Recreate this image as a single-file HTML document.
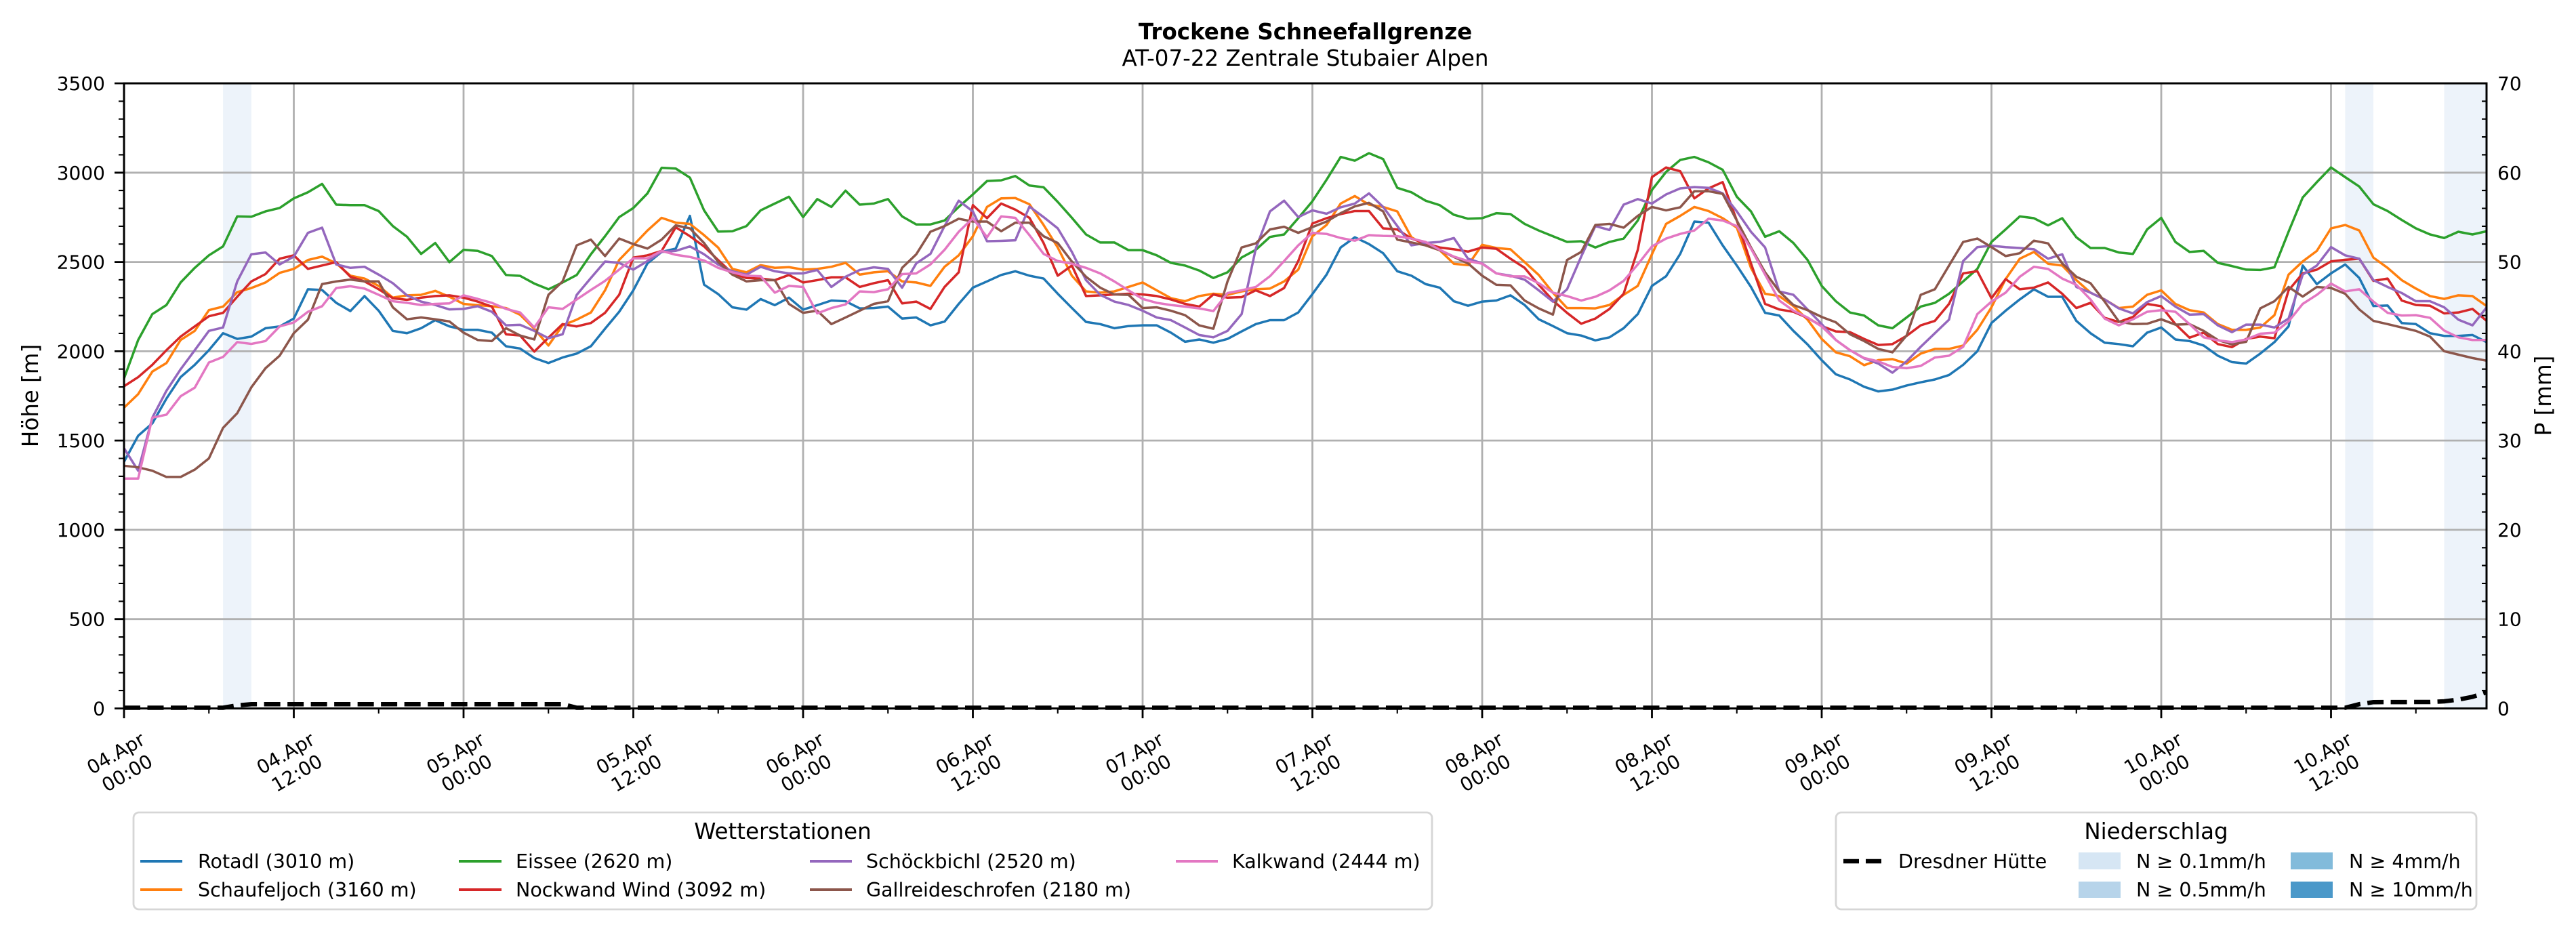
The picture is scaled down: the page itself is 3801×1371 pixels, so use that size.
<!DOCTYPE html>
<html><head><meta charset="utf-8"><style>
html,body{margin:0;padding:0;background:#fff;}
svg{display:block;}
text{font-family:"DejaVu Sans","Liberation Sans",sans-serif;fill:#000;}
</style></head><body>
<svg width="3801" height="1371" viewBox="0 0 3801 1371" xmlns="http://www.w3.org/2000/svg">
<rect width="3801" height="1371" fill="#fff"/>
<!-- title -->
<text x="1926" y="58" font-size="32.5" font-weight="bold" text-anchor="middle">Trockene Schneefallgrenze</text>
<text x="1926" y="97" font-size="32.5" text-anchor="middle">AT-07-22 Zentrale Stubaier Alpen</text>

<!-- precipitation bands -->
<g fill="#edf3fa">
<rect x="329.1" y="123" width="41.8" height="922.5"/>
<rect x="3460.4" y="123" width="41.7" height="922.5"/>
<rect x="3606.5" y="123" width="62.5" height="922.5"/>
</g>

<!-- grid -->
<g stroke="#b0b0b0" stroke-width="2.8" fill="none">
<path d="M433.5 123V1045.5M684 123V1045.5M934.5 123V1045.5M1185 123V1045.5M1435.5 123V1045.5M1686 123V1045.5M1936.5 123V1045.5M2187 123V1045.5M2437.5 123V1045.5M2688 123V1045.5M2938.5 123V1045.5M3189 123V1045.5M3439.5 123V1045.5"/>
<path d="M183 913.7H3669M183 781.9H3669M183 650.1H3669M183 518.4H3669M183 386.6H3669M183 254.8H3669"/>
</g>

<!-- data series -->
<g transform="translate(183,1045.5) scale(20.875,-0.26357)" fill="none" stroke-width="3.5" stroke-linejoin="round">
<polyline vector-effect="non-scaling-stroke" stroke="#1f77b4" points="0,1381 1,1527 2,1596 3,1735 4,1855 5,1924 6,2006 7,2101 8,2069 9,2082 10,2129 11,2139 12,2183 13,2347 14,2343 15,2271 16,2225 17,2309 18,2227 19,2114 20,2101 21,2129 22,2174 23,2139 24,2120 25,2120 26,2104 27,2028 28,2015 29,1962 30,1934 31,1965 32,1987 33,2028 34,2126 35,2221 36,2341 37,2492 38,2556 39,2575 40,2758 41,2373 42,2320 43,2246 44,2233 45,2292 46,2258 47,2300 48,2233 49,2258 50,2284 51,2280 52,2240 53,2242 54,2250 55,2183 56,2189 57,2145 58,2166 59,2265 60,2356 61,2391 62,2427 63,2448 64,2423 65,2407 66,2322 67,2242 68,2164 69,2152 70,2129 71,2141 72,2145 73,2145 74,2104 75,2053 76,2066 77,2048 78,2069 79,2111 80,2152 81,2174 82,2174 83,2217 84,2320 85,2429 86,2581 87,2638 88,2600 89,2549 90,2448 91,2423 92,2376 93,2356 94,2280 95,2255 96,2278 97,2284 98,2313 99,2259 100,2179 101,2141 102,2101 103,2088 104,2061 105,2078 106,2129 107,2208 108,2366 109,2420 110,2545 111,2726 112,2720 113,2593 114,2480 115,2360 116,2215 117,2200 118,2114 119,2038 120,1950 121,1871 122,1842 123,1801 124,1775 125,1785 126,1808 127,1826 128,1842 129,1867 130,1924 131,2000 132,2158 133,2227 134,2290 135,2347 136,2305 137,2305 138,2170 139,2101 140,2048 141,2040 142,2028 143,2104 144,2133 145,2066 146,2057 147,2032 148,1975 149,1939 150,1931 151,1987 152,2051 153,2139 154,2480 155,2376 156,2436 157,2486 158,2410 159,2253 160,2256 161,2158 162,2152 163,2101 164,2086 165,2086 166,2091 167,2051"/>
<polyline vector-effect="non-scaling-stroke" stroke="#ff7f0e" points="0,1684 1,1760 2,1886 3,1934 4,2063 5,2114 6,2230 7,2250 8,2331 9,2354 10,2385 11,2439 12,2461 13,2511 14,2530 15,2492 16,2423 17,2407 18,2366 19,2300 20,2313 21,2316 22,2338 23,2305 24,2265 25,2258 26,2252 27,2242 28,2204 29,2126 30,2032 31,2145 32,2177 33,2217 34,2341 35,2511 36,2593 37,2676 38,2747 39,2720 40,2713 41,2650 42,2580 43,2461 44,2442 45,2482 46,2467 47,2471 48,2457 49,2461 50,2473 51,2495 52,2429 53,2442 54,2448 55,2391 56,2385 57,2366 58,2473 59,2537 60,2644 61,2808 62,2856 63,2858 64,2823 65,2707 66,2581 67,2423 68,2335 69,2328 70,2335 71,2360 72,2385 73,2341 74,2297 75,2280 76,2309 77,2322 78,2316 79,2335 80,2347 81,2351 82,2391 83,2457 84,2644 85,2707 86,2827 87,2869 88,2821 89,2808 90,2783 91,2638 92,2593 93,2566 94,2490 95,2482 96,2596 97,2578 98,2571 99,2499 100,2427 101,2328 102,2242 103,2242 104,2240 105,2259 106,2316 107,2366 108,2543 109,2713 110,2758 111,2808 112,2785 113,2745 114,2692 115,2467 116,2322 117,2309 118,2253 119,2177 120,2069 121,1994 122,1972 123,1922 124,1950 125,1956 126,1931 127,1987 128,2013 129,2013 130,2032 131,2120 132,2246 133,2404 134,2518 135,2556 136,2490 137,2480 138,2398 139,2328 140,2290 141,2242 142,2250 143,2316 144,2341 145,2265 146,2230 147,2217 148,2152 149,2120 150,2120 151,2133 152,2202 153,2429 154,2503 155,2562 156,2688 157,2707 158,2676 159,2524 160,2467 161,2398 162,2351 163,2309 164,2293 165,2313 166,2309 167,2253"/>
<polyline vector-effect="non-scaling-stroke" stroke="#2ca02c" points="0,1848 1,2063 2,2208 3,2259 4,2385 5,2467 6,2537 7,2587 8,2755 9,2753 10,2783 11,2802 12,2856 13,2890 14,2937 15,2821 16,2818 17,2818 18,2785 19,2701 20,2641 21,2545 22,2606 23,2499 24,2568 25,2562 26,2533 27,2427 28,2422 29,2379 30,2347 31,2385 32,2427 33,2543 34,2644 35,2751 36,2802 37,2884 38,3027 39,3023 40,2972 41,2789 42,2670 43,2672 44,2701 45,2789 46,2827 47,2865 48,2751 49,2852 50,2808 51,2899 52,2821 53,2827 54,2852 55,2755 56,2710 57,2710 58,2732 59,2808 60,2878 61,2953 62,2957 63,2981 64,2928 65,2918 66,2836 67,2747 68,2654 69,2609 70,2609 71,2566 72,2566 73,2537 74,2495 75,2480 76,2452 77,2410 78,2442 79,2525 80,2568 81,2640 82,2654 83,2745 84,2840 85,2960 86,3088 87,3067 88,3109 89,3076 90,2915 91,2890 92,2843 93,2818 94,2764 95,2742 96,2745 97,2773 98,2768 99,2713 100,2676 101,2644 102,2612 103,2616 104,2581 105,2612 106,2631 107,2732 108,2903 109,3004 110,3071 111,3088 112,3058 113,3016 114,2865 115,2783 116,2641 117,2672 118,2606 119,2511 120,2366 121,2280 122,2217 123,2200 124,2145 125,2129 126,2189 127,2250 128,2271 129,2322 130,2391 131,2461 132,2612 133,2682 134,2755 135,2745 136,2705 137,2745 138,2638 139,2578 140,2578 141,2553 142,2545 143,2682 144,2747 145,2612 146,2556 147,2562 148,2495 149,2477 150,2457 151,2455 152,2470 153,2669 154,2861 155,2947 156,3029 157,2975 158,2922 159,2823 160,2785 161,2735 162,2688 163,2654 164,2634 165,2669 166,2654 167,2672"/>
<polyline vector-effect="non-scaling-stroke" stroke="#d62728" points="0,1804 1,1855 2,1924 3,2006 4,2082 5,2139 6,2196 7,2215 8,2305 9,2391 10,2432 11,2518 12,2537 13,2461 14,2480 15,2499 16,2417 17,2391 18,2347 19,2297 20,2288 21,2300 22,2309 23,2313 24,2300 25,2278 26,2250 27,2095 28,2088 29,1998 30,2076 31,2152 32,2139 33,2158 34,2215 35,2316 36,2524 37,2537 38,2562 39,2694 40,2644 41,2587 42,2510 43,2436 44,2410 45,2407 46,2398 47,2427 48,2385 49,2398 50,2414 51,2414 52,2360 53,2381 54,2398 55,2268 56,2278 57,2237 58,2360 59,2442 60,2818 61,2745 62,2827 63,2793 64,2747 65,2606 66,2423 67,2480 68,2309 69,2313 70,2318 71,2322 72,2318 73,2309 74,2290 75,2265 76,2250 77,2318 78,2300 79,2303 80,2341 81,2309 82,2354 83,2505 84,2715 85,2745 86,2768 87,2785 88,2785 89,2688 90,2682 91,2631 92,2604 93,2581 94,2571 95,2558 96,2581 97,2574 98,2518 99,2467 100,2372 101,2284 102,2215 103,2154 104,2183 105,2237 106,2322 107,2568 108,2975 109,3029 110,3008 111,2856 112,2912 113,2947 114,2732 115,2492 116,2265 117,2234 118,2221 119,2187 120,2141 121,2111 122,2107 123,2069 124,2035 125,2040 126,2086 127,2145 128,2170 129,2265 130,2436 131,2448 132,2297 133,2404 134,2347 135,2356 136,2385 137,2322 138,2242 139,2271 140,2187 141,2164 142,2192 143,2265 144,2252 145,2152 146,2076 147,2104 148,2040 149,2023 150,2069 151,2082 152,2073 153,2341 154,2436 155,2457 156,2503 157,2512 158,2518 159,2394 160,2407 161,2284 162,2259 163,2255 164,2212 165,2217 166,2237 167,2170"/>
<polyline vector-effect="non-scaling-stroke" stroke="#9467bd" points="0,1457 1,1331 2,1628 3,1779 4,1899 5,2006 6,2114 7,2133 8,2391 9,2543 10,2553 11,2486 12,2530 13,2663 14,2692 15,2486 16,2467 17,2473 18,2429 19,2381 20,2313 21,2278 22,2259 23,2234 24,2237 25,2252 26,2221 27,2145 28,2148 29,2114 30,2073 31,2095 32,2316 33,2410 34,2502 35,2495 36,2457 37,2505 38,2556 39,2562 40,2587 41,2543 42,2485 43,2448 44,2429 45,2473 46,2448 47,2436 48,2436 49,2455 50,2360 51,2417 52,2455 53,2470 54,2461 55,2356 56,2492 57,2545 58,2701 59,2843 60,2783 61,2616 62,2618 63,2621 64,2810 65,2751 66,2688 67,2556 68,2398 69,2316 70,2278 71,2259 72,2227 73,2189 74,2174 75,2133 76,2091 77,2078 78,2114 79,2208 80,2575 81,2783 82,2843 83,2751 84,2789 85,2770 86,2806 87,2827 88,2884 89,2808 90,2701 91,2593 92,2606 93,2612 94,2634 95,2518 96,2492 97,2436 98,2423 99,2401 100,2341 101,2278 102,2347 103,2530 104,2701 105,2679 106,2821 107,2852 108,2827 109,2878 110,2912 111,2919 112,2915 113,2884 114,2783 115,2669 116,2581 117,2335 118,2316 119,2234 120,2152 121,2063 122,2006 123,1960 124,1931 125,1880 126,1943 127,2025 128,2101 129,2177 130,2505 131,2583 132,2591 133,2583 134,2578 135,2571 136,2518 137,2543 138,2360 139,2328 140,2290 141,2240 142,2212 143,2275 144,2309 145,2250 146,2205 147,2208 148,2145 149,2107 150,2149 151,2149 152,2133 153,2183 154,2429 155,2480 156,2583 157,2537 158,2518 159,2398 160,2360 161,2326 162,2280 163,2280 164,2246 165,2177 166,2145 167,2246"/>
<polyline vector-effect="non-scaling-stroke" stroke="#8c564b" points="0,1359 1,1350 2,1331 3,1296 4,1296 5,1337 6,1400 7,1571 8,1653 9,1798 10,1905 11,1975 12,2101 13,2177 14,2376 15,2391 16,2401 17,2391 18,2391 19,2246 20,2179 21,2189 22,2179 23,2167 24,2104 25,2063 26,2057 27,2129 28,2088 29,2066 30,2316 31,2391 32,2593 33,2625 34,2533 35,2631 36,2600 37,2575 38,2625 39,2705 40,2688 41,2606 42,2500 43,2429 44,2391 45,2398 46,2398 47,2265 48,2215 49,2227 50,2152 51,2189 52,2227 53,2265 54,2280 55,2467 56,2543 57,2669 58,2701 59,2742 60,2726 61,2726 62,2672 63,2720 64,2720 65,2644 66,2606 67,2502 68,2417 69,2356 70,2318 71,2316 72,2242 73,2246 74,2227 75,2202 76,2145 77,2126 78,2391 79,2581 80,2604 81,2682 82,2697 83,2663 84,2695 85,2726 86,2773 87,2811 88,2831 89,2783 90,2625 91,2609 92,2593 93,2566 94,2528 95,2492 96,2423 97,2372 98,2369 99,2284 100,2240 101,2205 102,2511 103,2556 104,2707 105,2713 106,2692 107,2758 108,2808 109,2789 110,2806 111,2896 112,2896 113,2881 114,2732 115,2581 116,2442 117,2335 118,2259 119,2230 120,2192 121,2162 122,2095 123,2057 124,2013 125,1994 126,2088 127,2316 128,2347 129,2480 130,2612 131,2631 132,2583 133,2533 134,2549 135,2619 136,2604 137,2492 138,2417 139,2381 140,2278 141,2167 142,2152 143,2154 144,2179 145,2149 146,2152 147,2114 148,2063 149,2038 150,2053 151,2240 152,2280 153,2360 154,2306 155,2360 156,2354 157,2322 158,2234 159,2170 160,2152 161,2133 162,2114 163,2082 164,2000 165,1981 166,1962 167,1947"/>
<polyline vector-effect="non-scaling-stroke" stroke="#e377c2" points="0,1287 1,1287 2,1628 3,1645 4,1748 5,1796 6,1937 7,1968 8,2051 9,2041 10,2057 11,2139 12,2161 13,2221 14,2252 15,2354 16,2364 17,2351 18,2316 19,2280 20,2271 21,2259 22,2265 23,2268 24,2313 25,2293 26,2271 27,2237 28,2217 29,2133 30,2246 31,2237 32,2290 33,2343 34,2394 35,2457 36,2520 37,2520 38,2562 39,2540 40,2528 41,2508 42,2467 43,2442 44,2423 45,2420 46,2328 47,2366 48,2360 49,2212 50,2242 51,2262 52,2335 53,2331 54,2347 55,2432 56,2436 57,2486 58,2568 59,2669 60,2745 61,2638 62,2755 63,2747 64,2650 65,2545 66,2505 67,2490 68,2467 69,2436 70,2391 71,2341 72,2293 73,2271 74,2259 75,2250 76,2240 77,2225 78,2326 79,2341 80,2360 81,2420 82,2505 83,2593 84,2663 85,2657 86,2634 87,2619 88,2650 89,2646 90,2644 91,2631 92,2612 93,2568 94,2530 95,2505 96,2490 97,2436 98,2419 99,2419 100,2381 101,2328 102,2309 103,2284 104,2305 105,2341 106,2394 107,2486 108,2587 109,2631 110,2657 111,2676 112,2742 113,2732 114,2701 115,2575 116,2429 117,2284 118,2227 119,2189 120,2139 121,2063 122,2006 123,1962 124,1943 125,1912 126,1905 127,1918 128,1965 129,1975 130,2025 131,2208 132,2278 133,2328 134,2417 135,2473 136,2461 137,2407 138,2372 139,2290 140,2183 141,2145 142,2179 143,2221 144,2230 145,2221 146,2152 147,2078 148,2061 149,2051 150,2066 151,2098 152,2104 153,2167 154,2265 155,2316 156,2379 157,2335 158,2347 159,2278 160,2215 161,2200 162,2202 163,2187 164,2116 165,2078 166,2063 167,2063"/>
</g>

<!-- spines -->
<g stroke="#000" stroke-width="3" fill="none" stroke-linecap="square">
<path d="M183 123H3669V1045.5H183Z"/>
</g>

<!-- left ticks -->
<g stroke="#000" fill="none">
<path stroke-width="2.8" d="M169 1045.5H183M169 913.7H183M169 781.9H183M169 650.1H183M169 518.4H183M169 386.6H183M169 254.8H183M169 123H183"/>
<path stroke-width="2.1" d="M175 1019.1H183M175 992.8H183M175 966.4H183M175 940.1H183M175 887.4H183M175 861H183M175 834.6H183M175 808.3H183M175 755.6H183M175 729.2H183M175 702.9H183M175 676.5H183M175 623.8H183M175 597.4H183M175 571.1H183M175 544.7H183M175 492H183M175 465.7H183M175 439.3H183M175 412.9H183M175 360.2H183M175 333.9H183M175 307.5H183M175 281.1H183M175 228.4H183M175 202.1H183M175 175.7H183M175 149.4H183"/>
<path stroke-width="2.1" d="M3662 1019.1H3670M3662 992.8H3670M3662 966.4H3670M3662 940.1H3670M3662 887.4H3670M3662 861H3670M3662 834.6H3670M3662 808.3H3670M3662 755.6H3670M3662 729.2H3670M3662 702.9H3670M3662 676.5H3670M3662 623.8H3670M3662 597.4H3670M3662 571.1H3670M3662 544.7H3670M3662 492H3670M3662 465.7H3670M3662 439.3H3670M3662 412.9H3670M3662 360.2H3670M3662 333.9H3670M3662 307.5H3670M3662 281.1H3670M3662 228.4H3670M3662 202.1H3670M3662 175.7H3670M3662 149.4H3670"/>
<path stroke-width="2.8" d="M183 1045.5V1060M433.5 1045.5V1060M684 1045.5V1060M934.5 1045.5V1060M1185 1045.5V1060M1435.5 1045.5V1060M1686 1045.5V1060M1936.5 1045.5V1060M2187 1045.5V1060M2437.5 1045.5V1060M2688 1045.5V1060M2938.5 1045.5V1060M3189 1045.5V1060M3439.5 1045.5V1060"/>
<path stroke-width="2.1" d="M308.25 1045.5V1053M558.75 1045.5V1053M809.25 1045.5V1053M1059.75 1045.5V1053M1310.25 1045.5V1053M1560.75 1045.5V1053M1811.25 1045.5V1053M2061.75 1045.5V1053M2312.25 1045.5V1053M2562.75 1045.5V1053M2813.25 1045.5V1053M3063.75 1045.5V1053M3314.25 1045.5V1053M3564.75 1045.5V1053"/>
</g>

<!-- precipitation dashed line -->
<polyline fill="none" stroke="#000" stroke-width="6.5" stroke-dasharray="24 10.5" points="183,1044.5 329.1,1044.5 350,1041 370.9,1039.2 830.1,1039.2 851,1044.5 3460.4,1044.5 3481.3,1039.2 3502.1,1036.2 3585.6,1036 3606.5,1035 3627.4,1032.5 3648.3,1028.4 3669,1021.8"/>

<!-- y tick labels left -->
<g font-size="28" text-anchor="end">
<text x="155" y="1055.5">0</text>
<text x="155" y="923.7">500</text>
<text x="155" y="791.9">1000</text>
<text x="155" y="660.1">1500</text>
<text x="155" y="528.4">2000</text>
<text x="155" y="396.6">2500</text>
<text x="155" y="264.8">3000</text>
<text x="155" y="133">3500</text>
</g>
<!-- y tick labels right -->
<g font-size="28" text-anchor="start">
<text x="3685" y="1055.5">0</text>
<text x="3685" y="923.7">10</text>
<text x="3685" y="791.9">20</text>
<text x="3685" y="660.1">30</text>
<text x="3685" y="528.4">40</text>
<text x="3685" y="396.6">50</text>
<text x="3685" y="264.8">60</text>
<text x="3685" y="133">70</text>
</g>

<!-- axis labels -->
<text transform="translate(56,584) rotate(-90)" font-size="32.5" text-anchor="middle">Höhe [m]</text>
<text transform="translate(3764,584) rotate(-90)" font-size="32.5" text-anchor="middle">P [mm]</text>

<!-- x tick labels -->
<g font-size="28" text-anchor="middle">
<text transform="translate(179,1126) rotate(-30)"><tspan x="0" y="-6.6">04.Apr</tspan><tspan x="0" y="27">00:00</tspan></text>
<text transform="translate(429.5,1126) rotate(-30)"><tspan x="0" y="-6.6">04.Apr</tspan><tspan x="0" y="27">12:00</tspan></text>
<text transform="translate(680,1126) rotate(-30)"><tspan x="0" y="-6.6">05.Apr</tspan><tspan x="0" y="27">00:00</tspan></text>
<text transform="translate(930.5,1126) rotate(-30)"><tspan x="0" y="-6.6">05.Apr</tspan><tspan x="0" y="27">12:00</tspan></text>
<text transform="translate(1181,1126) rotate(-30)"><tspan x="0" y="-6.6">06.Apr</tspan><tspan x="0" y="27">00:00</tspan></text>
<text transform="translate(1431.5,1126) rotate(-30)"><tspan x="0" y="-6.6">06.Apr</tspan><tspan x="0" y="27">12:00</tspan></text>
<text transform="translate(1682,1126) rotate(-30)"><tspan x="0" y="-6.6">07.Apr</tspan><tspan x="0" y="27">00:00</tspan></text>
<text transform="translate(1932.5,1126) rotate(-30)"><tspan x="0" y="-6.6">07.Apr</tspan><tspan x="0" y="27">12:00</tspan></text>
<text transform="translate(2183,1126) rotate(-30)"><tspan x="0" y="-6.6">08.Apr</tspan><tspan x="0" y="27">00:00</tspan></text>
<text transform="translate(2433.5,1126) rotate(-30)"><tspan x="0" y="-6.6">08.Apr</tspan><tspan x="0" y="27">12:00</tspan></text>
<text transform="translate(2684,1126) rotate(-30)"><tspan x="0" y="-6.6">09.Apr</tspan><tspan x="0" y="27">00:00</tspan></text>
<text transform="translate(2934.5,1126) rotate(-30)"><tspan x="0" y="-6.6">09.Apr</tspan><tspan x="0" y="27">12:00</tspan></text>
<text transform="translate(3185,1126) rotate(-30)"><tspan x="0" y="-6.6">10.Apr</tspan><tspan x="0" y="27">00:00</tspan></text>
<text transform="translate(3435.5,1126) rotate(-30)"><tspan x="0" y="-6.6">10.Apr</tspan><tspan x="0" y="27">12:00</tspan></text>
</g>

<!-- legend 1 -->
<rect x="197" y="1199" width="1916" height="143" rx="8" ry="8" fill="#fff" stroke="#d6d6d6" stroke-width="2.8"/>
<text x="1155" y="1238" font-size="32.5" text-anchor="middle">Wetterstationen</text>
<g stroke-width="4" fill="none">
<path stroke="#1f77b4" d="M207 1271H269"/>
<path stroke="#ff7f0e" d="M207 1313H269"/>
<path stroke="#2ca02c" d="M677 1271H740"/>
<path stroke="#d62728" d="M677 1313H740"/>
<path stroke="#9467bd" d="M1195 1271H1257"/>
<path stroke="#8c564b" d="M1195 1313H1257"/>
<path stroke="#e377c2" d="M1735 1271H1797"/>
</g>
<g font-size="28.5">
<text x="292" y="1281">Rotadl (3010 m)</text>
<text x="292" y="1323">Schaufeljoch (3160 m)</text>
<text x="761" y="1281">Eissee (2620 m)</text>
<text x="761" y="1323">Nockwand Wind (3092 m)</text>
<text x="1278" y="1281">Schöckbichl (2520 m)</text>
<text x="1278" y="1323">Gallreideschrofen (2180 m)</text>
<text x="1818" y="1281">Kalkwand (2444 m)</text>
</g>

<!-- legend 2 -->
<rect x="2709" y="1199" width="945" height="143" rx="8" ry="8" fill="#fff" stroke="#d6d6d6" stroke-width="2.8"/>
<text x="3181.5" y="1238" font-size="32.5" text-anchor="middle">Niederschlag</text>
<path d="M2720 1271H2777" stroke="#000" stroke-width="6.5" stroke-dasharray="23 10" fill="none"/>
<rect x="3067" y="1258" width="62" height="25" fill="#d6e6f4"/>
<rect x="3067" y="1301" width="62" height="24" fill="#b7d4ea"/>
<rect x="3380" y="1258" width="62" height="25" fill="#82bbdb"/>
<rect x="3380" y="1301" width="62" height="24" fill="#4a98c9"/>
<g font-size="28.5">
<text x="2801" y="1281">Dresdner Hütte</text>
<text x="3152" y="1281">N ≥ 0.1mm/h</text>
<text x="3152" y="1323">N ≥ 0.5mm/h</text>
<text x="3466" y="1281">N ≥ 4mm/h</text>
<text x="3466" y="1323">N ≥ 10mm/h</text>
</g>
</svg>
</body></html>
